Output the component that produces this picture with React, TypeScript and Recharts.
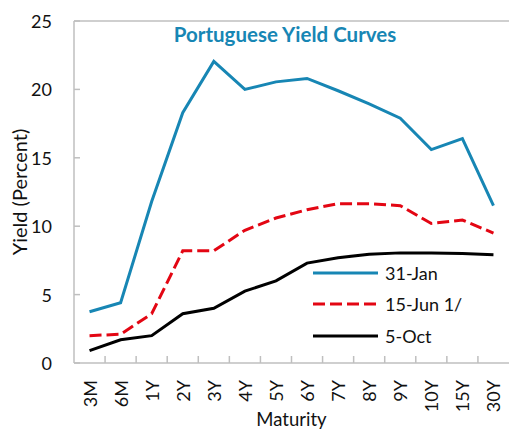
import { Label, Legend, Line, LineChart, ReferenceLine, XAxis, YAxis } from 'recharts'

const maturities = ['3M', '6M', '1Y', '2Y', '3Y', '4Y', '5Y', '6Y', '7Y', '8Y', '9Y', '10Y', '15Y', '30Y']
const jan31 = [3.75, 4.4, 11.8, 18.3, 22.05, 20.0, 20.55, 20.8, 19.9, 18.95, 17.9, 15.6, 16.4, 11.5]
const jun15 = [2.0, 2.1, 3.6, 8.2, 8.2, 9.7, 10.6, 11.2, 11.65, 11.65, 11.5, 10.2, 10.45, 9.5]
const oct5 = [0.9, 1.7, 2.0, 3.6, 4.0, 5.25, 6.0, 7.3, 7.7, 7.95, 8.05, 8.05, 8.0, 7.92]
const yTicks = [0, 5, 10, 15, 20, 25]

const BLUE = '#1786b4'
const RED = '#e30613'
const AXIS = '#bfbfbf'
const FONT = 'Lato, "Liberation Sans", sans-serif'

const W = 510
const H = 429
const LEFT = 74
const RIGHT = 1
const BAND = (W - LEFT - RIGHT) / maturities.length

const data = maturities.map((m, i) => ({ maturity: m, jan: jan31[i], jun: jun15[i], oct: oct5[i] }))

const legendItems = [
  { label: '31-Jan', color: BLUE, dash: undefined },
  { label: '15-Jun 1/', color: RED, dash: '12 5' },
  { label: '5-Oct', color: '#000', dash: undefined },
]

function XTick({ x, y, payload, index }: any) {
  return (
    <g>
      {index < maturities.length - 1 && (
        <line x1={x + BAND / 2} x2={x + BAND / 2} y1={y} y2={y - 7} stroke={AXIS} strokeWidth={1.5} />
      )}
      <text
        transform={`translate(${x},${y + 17}) rotate(-90)`}
        textAnchor="end"
        dominantBaseline="central"
        fontSize={18}
        fill="#111"
        fontFamily={FONT}
      >
        {payload.value}
      </text>
    </g>
  )
}

function YTick({ x, y, payload }: any) {
  return (
    <g>
      <line x1={x} x2={x + 6} y1={y} y2={y} stroke={AXIS} strokeWidth={1.5} />
      <text x={x - 22} y={y} textAnchor="end" dominantBaseline="central" fontSize={18} fill="#111" fontFamily={FONT}>
        {payload.value}
      </text>
    </g>
  )
}

function RightTick({ x, y }: any) {
  return <line x1={x} x2={x - 6} y1={y} y2={y} stroke={AXIS} strokeWidth={1.5} />
}

function LegendBox() {
  return (
    <div style={{ fontFamily: FONT, fontSize: 18, color: '#111' }}>
      {legendItems.map((it) => (
        <div key={it.label} style={{ display: 'flex', alignItems: 'center', height: 31.5 }}>
          <svg width={72} height={10} style={{ display: 'block' }}>
            <line x1={0} x2={65} y1={5} y2={5} stroke={it.color} strokeWidth={3} strokeDasharray={it.dash} />
          </svg>
          <span>{it.label}</span>
        </div>
      ))}
    </div>
  )
}

export default function App() {
  return (
    <div style={{ position: 'absolute', left: 0, top: 0, width: W, height: H, background: '#fff' }}>
      <div
        style={{
          position: 'absolute',
          left: 0,
          width: 570,
          top: 22,
          textAlign: 'center',
          fontFamily: FONT,
          fontWeight: 700,
          fontSize: 20.5,
          color: BLUE,
          zIndex: 2,
          lineHeight: '24px',
        }}
      >
        Portuguese Yield Curves
      </div>
      <LineChart width={W} height={H} data={data} margin={{ top: 21, right: RIGHT, bottom: 0, left: 0 }}>
        <XAxis
          dataKey="maturity"
          interval={0}
          height={66}
          padding={{ left: BAND / 2, right: BAND / 2 }}
          tickSize={0}
          tickMargin={0}
          tickLine={false}
          axisLine={{ stroke: AXIS, strokeWidth: 1.5 }}
          tick={<XTick />}
        >
          <Label value="Maturity" position="insideBottom" offset={3} fontSize={18.5} fill="#111" fontFamily={FONT} />
        </XAxis>
        <YAxis
          domain={[0, 25]}
          ticks={yTicks}
          width={LEFT}
          tickSize={0}
          tickMargin={0}
          tickLine={false}
          axisLine={{ stroke: AXIS, strokeWidth: 1.5 }}
          tick={<YTick />}
        >
          <Label value="Yield (Percent)" angle={-90} position="center" dx={-17} fontSize={20} fill="#111" fontFamily={FONT} />
        </YAxis>
        <YAxis
          yAxisId="r"
          orientation="right"
          domain={[0, 25]}
          ticks={yTicks}
          width={0}
          tickSize={0}
          tickMargin={0}
          tickLine={false}
          axisLine={{ stroke: AXIS, strokeWidth: 1.5 }}
          tick={<RightTick />}
        />
        <ReferenceLine y={25} stroke={AXIS} strokeWidth={1.5} />
        <Legend
          layout="horizontal"
          verticalAlign="middle"
          align="center"
          content={<LegendBox />}
          wrapperStyle={{ left: 313, top: 257, width: 'auto' }}
        />
        <Line dataKey="jan" stroke={BLUE} strokeWidth={3} dot={false} isAnimationActive={false} />
        <Line dataKey="jun" stroke={RED} strokeWidth={3} strokeDasharray="12 5" dot={false} isAnimationActive={false} />
        <Line dataKey="oct" stroke="#000" strokeWidth={3} dot={false} isAnimationActive={false} />
      </LineChart>
    </div>
  )
}
